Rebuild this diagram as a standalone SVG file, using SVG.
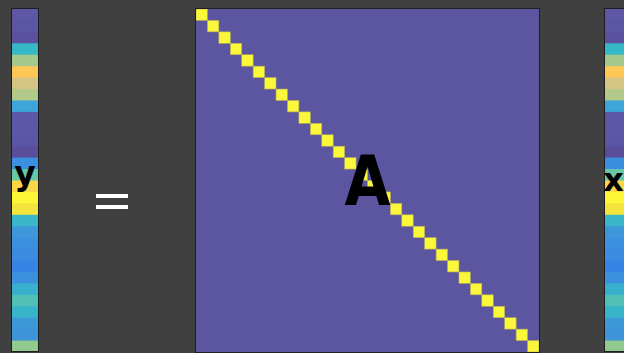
<svg xmlns="http://www.w3.org/2000/svg" width="624" height="353" viewBox="0 0 624 353">
<style>
.lbl{font-family:"DejaVu Sans","Liberation Sans",sans-serif;font-weight:bold;fill:#000;text-anchor:middle}
.frame{fill:none;stroke:#1e1e1e;stroke-width:1}
.d{fill:#fbf83c;stroke:#b4ad5a;stroke-width:0.6}
.eq{fill:#ffffff}
</style>
<defs>
<g id="vec">
<rect x="0" y="0" width="26" height="12.2" fill="#5d57a5"/>
<rect x="0" y="11.43" width="26" height="12.2" fill="#5b55a3"/>
<rect x="0" y="22.87" width="26" height="12.2" fill="#5a529e"/>
<rect x="0" y="34.3" width="26" height="12.2" fill="#37b8c6"/>
<rect x="0" y="45.73" width="26" height="12.2" fill="#a5c98d"/>
<rect x="0" y="57.17" width="26" height="12.2" fill="#fdc856"/>
<rect x="0" y="68.6" width="26" height="12.2" fill="#d5c584"/>
<rect x="0" y="80.03" width="26" height="12.2" fill="#b3c98a"/>
<rect x="0" y="91.47" width="26" height="12.2" fill="#3ea5da"/>
<rect x="0" y="102.9" width="26" height="12.2" fill="#5c57a8"/>
<rect x="0" y="114.33" width="26" height="12.2" fill="#5c57a8"/>
<rect x="0" y="125.77" width="26" height="12.2" fill="#5a55a6"/>
<rect x="0" y="137.2" width="26" height="12.2" fill="#5a4e9b"/>
<rect x="0" y="148.63" width="26" height="12.2" fill="#3b8fe0"/>
<rect x="0" y="160.07" width="26" height="12.2" fill="#68c8a6"/>
<rect x="0" y="171.5" width="26" height="12.2" fill="#fbd646"/>
<rect x="0" y="182.93" width="26" height="12.2" fill="#fbf636"/>
<rect x="0" y="194.37" width="26" height="12.2" fill="#f3e43e"/>
<rect x="0" y="205.8" width="26" height="12.2" fill="#39b7c8"/>
<rect x="0" y="217.23" width="26" height="12.2" fill="#3e97d8"/>
<rect x="0" y="228.67" width="26" height="12.2" fill="#3d8fdf"/>
<rect x="0" y="240.1" width="26" height="12.2" fill="#3b8be0"/>
<rect x="0" y="251.53" width="26" height="12.2" fill="#3884e5"/>
<rect x="0" y="262.97" width="26" height="12.2" fill="#3c90dc"/>
<rect x="0" y="274.4" width="26" height="12.2" fill="#38b0cd"/>
<rect x="0" y="285.83" width="26" height="12.2" fill="#50c0b6"/>
<rect x="0" y="297.27" width="26" height="12.2" fill="#38b4ca"/>
<rect x="0" y="308.7" width="26" height="12.2" fill="#3d98d8"/>
<rect x="0" y="320.13" width="26" height="12.2" fill="#3e94d9"/>
<rect x="0" y="331.57" width="26" height="11.43" fill="#90ca8e"/>
</g>
</defs>
<rect x="0" y="0" width="624" height="353" fill="#404040"/>

<g id="vector-y">
<use href="#vec" x="12" y="9"/>
<rect class="frame" x="11.5" y="8.5" width="27" height="343"/>
<text class="lbl" x="25" y="185" font-size="33">y</text>
</g>

<g id="equals">
<rect class="eq" x="96" y="194" width="32" height="4"/>
<rect class="eq" x="96" y="205" width="32" height="4"/>
</g>

<g id="matrix-A">
<rect x="196" y="9" width="343" height="343" fill="#5c56a0"/>
<g id="diag">
<rect class="d" x="196" y="9" width="11.43" height="11.43"/>
<rect class="d" x="207.43" y="20.43" width="11.43" height="11.43"/>
<rect class="d" x="218.87" y="31.87" width="11.43" height="11.43"/>
<rect class="d" x="230.3" y="43.3" width="11.43" height="11.43"/>
<rect class="d" x="241.73" y="54.73" width="11.43" height="11.43"/>
<rect class="d" x="253.17" y="66.17" width="11.43" height="11.43"/>
<rect class="d" x="264.6" y="77.6" width="11.43" height="11.43"/>
<rect class="d" x="276.03" y="89.03" width="11.43" height="11.43"/>
<rect class="d" x="287.47" y="100.47" width="11.43" height="11.43"/>
<rect class="d" x="298.9" y="111.9" width="11.43" height="11.43"/>
<rect class="d" x="310.33" y="123.33" width="11.43" height="11.43"/>
<rect class="d" x="321.77" y="134.77" width="11.43" height="11.43"/>
<rect class="d" x="333.2" y="146.2" width="11.43" height="11.43"/>
<rect class="d" x="344.63" y="157.63" width="11.43" height="11.43"/>
<rect class="d" x="356.07" y="169.07" width="11.43" height="11.43"/>
<rect class="d" x="367.5" y="180.5" width="11.43" height="11.43"/>
<rect class="d" x="378.93" y="191.93" width="11.43" height="11.43"/>
<rect class="d" x="390.37" y="203.37" width="11.43" height="11.43"/>
<rect class="d" x="401.8" y="214.8" width="11.43" height="11.43"/>
<rect class="d" x="413.23" y="226.23" width="11.43" height="11.43"/>
<rect class="d" x="424.67" y="237.67" width="11.43" height="11.43"/>
<rect class="d" x="436.1" y="249.1" width="11.43" height="11.43"/>
<rect class="d" x="447.53" y="260.53" width="11.43" height="11.43"/>
<rect class="d" x="458.97" y="271.97" width="11.43" height="11.43"/>
<rect class="d" x="470.4" y="283.4" width="11.43" height="11.43"/>
<rect class="d" x="481.83" y="294.83" width="11.43" height="11.43"/>
<rect class="d" x="493.27" y="306.27" width="11.43" height="11.43"/>
<rect class="d" x="504.7" y="317.7" width="11.43" height="11.43"/>
<rect class="d" x="516.13" y="329.13" width="11.43" height="11.43"/>
<rect class="d" x="527.57" y="340.57" width="11.43" height="11.43"/>
</g>
<rect class="frame" x="195.5" y="8.5" width="344" height="344"/>
<text class="lbl" transform="translate(367.5,205) scale(0.85,1)" x="0" y="0" font-size="70">A</text>
</g>

<g id="vector-x">
<use href="#vec" x="605" y="9"/>
<rect class="frame" x="604.5" y="8.5" width="27" height="343"/>
<text class="lbl" x="613.5" y="191" font-size="32">x</text>
</g>
</svg>
